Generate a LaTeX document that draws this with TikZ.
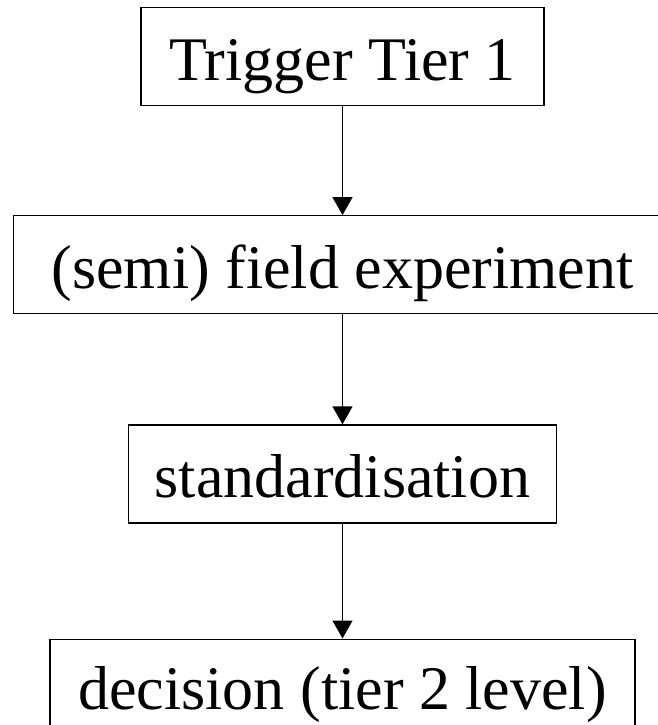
\documentclass[tikz,border=0pt]{standalone}
\usepackage{fontspec}
\setmainfont{Liberation Serif}
\usetikzlibrary{arrows.meta,positioning}

\begin{document}
\begin{tikzpicture}[
  x=1pt, y=1pt,
  node distance=109pt,
  every node/.style={align=center, font=\fontsize{62}{74}\selectfont},
  box/.style={draw, line width=1.2pt, inner sep=0pt, minimum height=98pt,
    text height=50pt, text depth=3pt},
  arrow/.style={-{Triangle[length=18pt, width=20pt]}, line width=1.4pt}
]
  \clip (0,0) rectangle (658,-725);

  % Tier 1 chain
  \node[box, minimum width=403pt] (trigger) at (342.5,-56.5) {Trigger Tier 1};
  \node[box, minimum width=658pt, below=of trigger] (field) {(semi) field experiment};
  \node[box, minimum width=428pt, below=110pt of field] (stand) {standardisation};
  \node[box, minimum width=585pt, below=115pt of stand, text height=45pt] (decision) {decision (tier 2 level)};

  \draw[arrow] (trigger) -- (field);
  \draw[arrow] (field) -- (stand);
  \draw[arrow] (stand) -- (decision);
\end{tikzpicture}
\end{document}
